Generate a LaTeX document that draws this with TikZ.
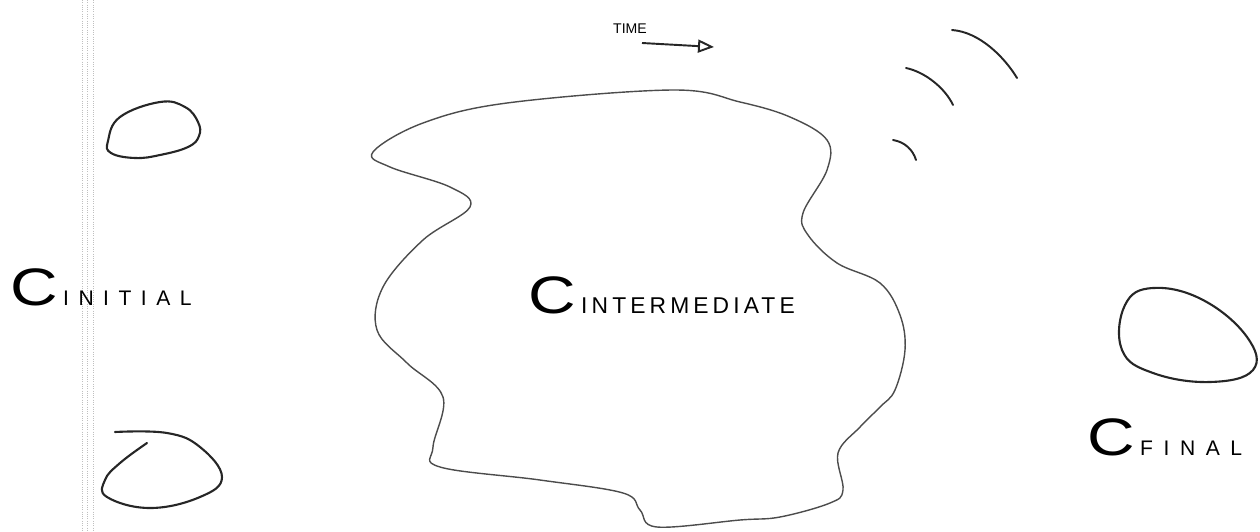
\documentclass[tikz,border=0pt]{standalone}
\usepackage{fontspec}
\setmainfont{Liberation Sans}
\usetikzlibrary{arrows.meta}
\newcommand{\stateC}{{\fontsize{30}{30}\selectfont\scalebox{1.25}[1]{C}}\hspace{3pt}}

\begin{document}
\begin{tikzpicture}[
  x=0.02cm, y=-0.02cm,
  blob/.style={draw=black!70, line width=0.8pt, line join=round},
  egg/.style={draw=black!85, line width=1.2pt, line join=round, line cap=round},
  wave/.style={draw=black!85, line width=1.1pt, line cap=round},
  paper/.style={draw=black!25, line width=0.3pt, densely dotted},
  statelabel/.style={anchor=base west, inner sep=0pt},
  timearrow/.style={-{Triangle[open, length=3.2mm, width=2.6mm]}, line width=1.1pt, draw=black!85}
]
\useasboundingbox (0,0) rectangle (1260,531);

% --- Faint ruled lines on the paper ---
\foreach \px in {82,87,93}
  \draw[paper] (\px,0) -- (\px,531);

% --- Initial states (left) ---
\draw[egg] plot[smooth cycle, tension=0.7] coordinates {
  (120,117) (160,102) (185,107) (198,122) (199,136) (188,147)
  (160,155) (135,158) (111,153) (108,141)};
\draw[egg] plot[smooth, tension=0.7] coordinates {
  (115,432) (167,433) (200,447) (222,477) (200,497) (150,508)
  (107,497) (105,480) (120,463) (147,443)};

% --- Intermediate region (centre) ---
\draw[blob] plot[smooth cycle, tension=0.6] coordinates {
  (373,152) (423,123) (507,103) (673,90) (740,102) (790,117)
  (827,140) (827,170) (803,213) (808,235) (837,263) (880,283)
  (900,315) (905,350) (895,390) (880,407) (860,427) (838,453)
  (843,490) (830,503) (780,517) (740,520) (657,527) (640,510)
  (623,493) (540,480) (440,467) (433,447) (443,397) (407,363)
  (377,330) (383,287) (423,240) (470,207) (450,187) (390,167)};

% --- Final state (right) ---
\draw[egg] plot[smooth cycle, tension=0.7] coordinates {
  (1153,288) (1203,300) (1247,337) (1253,370) (1210,382)
  (1153,373) (1122,350) (1125,305)};

% --- Time direction ---
\node[inner sep=0pt, font=\fontsize{8}{8}\selectfont] (time) at (630,29) {TIME};
\coordinate (tstart) at (642,43);
\coordinate (tend) at (714,47);
\draw[timearrow] (tstart) -- (tend);

% --- Wave arcs (top right) ---
\draw[wave] (952,30) .. controls (980,32) and (1005,58) .. (1017,78);
\draw[wave] (906,68) .. controls (925,72) and (945,88) .. (953,105);
\draw[wave] (893,140) .. controls (905,142) and (913,150) .. (916,160);

% --- State labels ---
\node[statelabel] (cinit) at (10,305)
  {\stateC\addfontfeature{LetterSpace=45}\fontsize{12}{12}\selectfont INITIAL};
\node[statelabel] (cinter) at (528,313)
  {\stateC\addfontfeature{LetterSpace=18}\fontsize{13}{13}\selectfont INTERMEDIATE};
\node[statelabel] (cfinal) at (1087,455)
  {\stateC\addfontfeature{LetterSpace=50}\fontsize{12}{12}\selectfont FINAL};

\end{tikzpicture}
\end{document}
